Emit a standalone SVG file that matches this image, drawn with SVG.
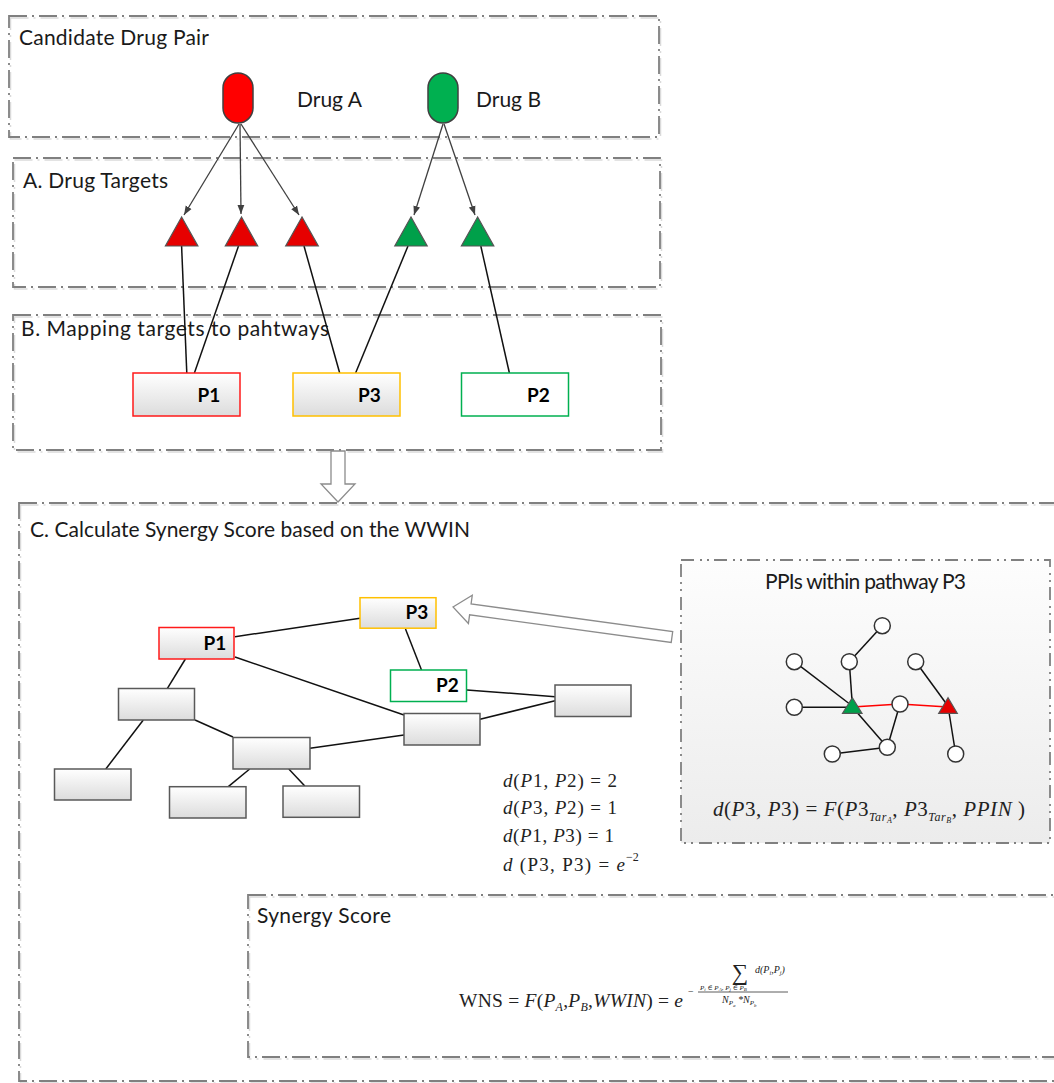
<svg xmlns="http://www.w3.org/2000/svg" width="1054" height="1083" viewBox="0 0 1054 1083">
<defs>
<linearGradient id="gbox" x1="0" y1="0" x2="0" y2="1"><stop offset="0" stop-color="#ffffff"/><stop offset="1" stop-color="#dcdcdc"/></linearGradient>
<linearGradient id="gppi" x1="0" y1="0" x2="0" y2="1"><stop offset="0" stop-color="#fdfdfd"/><stop offset="1" stop-color="#ececec"/></linearGradient>
<marker id="ah" viewBox="0 0 10 10" refX="10" refY="5" markerWidth="9" markerHeight="9" orient="auto" markerUnits="userSpaceOnUse"><path d="M0,1.2 L10,5 L0,8.8 Z" fill="#404040"/></marker>
<style>
.frame{fill:none;stroke:#808080;stroke-width:1.8;stroke-dasharray:18 5 2 5}
.shadow{fill:none;stroke:#dadada;stroke-width:1.5;stroke-dasharray:18 5 2 5}
.frame2{fill:url(#gppi);stroke:#808080;stroke-width:1.8;stroke-dasharray:13 6 2 5 2 5}
.h{font-family:Lato,"Liberation Sans",sans-serif;font-size:21px;fill:#1a1a1a}
.lbl{font-family:Lato,"Liberation Sans",sans-serif;font-weight:bold;font-size:19px;fill:#000;text-anchor:middle}
.math{font-family:"Liberation Serif","DejaVu Serif",serif;fill:#222}
.it{font-style:italic}
.arr{stroke:#404040;stroke-width:1.3;fill:none;marker-end:url(#ah)}
.ln{stroke:#111;stroke-width:1.5;fill:none}
.red{stroke:#ff0000;stroke-width:1.5;fill:none}
.nb{fill:url(#gbox);stroke:#595959;stroke-width:1.5}
.cir{fill:#fff;stroke:#333;stroke-width:1.5}
.hollow{fill:#fff;stroke:#8c8c8c;stroke-width:1.3}
</style>
</defs>
<rect width="1054" height="1083" fill="#fff"/>

<!-- section frames -->
<g id="frames">
<rect class="shadow" x="10.5" y="18" width="650" height="121"/>
<rect class="frame" x="9" y="16" width="650" height="121"/>
<rect class="shadow" x="14.5" y="160" width="647" height="129"/>
<rect class="frame" x="13" y="158" width="647" height="129"/>
<rect class="shadow" x="14.5" y="317" width="648" height="135"/>
<rect class="frame" x="13" y="315" width="648" height="135"/>
<rect class="shadow" x="20.5" y="505" width="1050" height="578"/>
<rect class="frame" x="19" y="503" width="1050" height="578"/>
<rect class="frame2" x="681" y="560" width="369" height="283"/>
<rect class="shadow" x="249.5" y="897" width="820" height="162"/>
<rect class="frame" x="248" y="895" width="820" height="162"/>
</g>

<g id="titles">
<text class="h" x="19" y="45" textLength="190">Candidate Drug Pair</text>
<text class="h" x="23" y="188" textLength="145">A. Drug Targets</text>
<text class="h" x="21" y="336" textLength="308">B. Mapping targets to pahtways</text>
<text class="h" x="30" y="537" textLength="440">C. Calculate Synergy Score based on the WWIN</text>
<text class="h" x="765" y="589" textLength="201">PPIs within pathway P3</text>
<text class="h" x="257" y="923" textLength="134">Synergy Score</text>
</g>

<!-- connectors -->
<g id="connectors">
<line class="arr" x1="239" y1="124" x2="184" y2="215"/>
<line class="arr" x1="240" y1="124" x2="241" y2="214"/>
<line class="arr" x1="241" y1="124" x2="299" y2="215"/>
<line class="arr" x1="443" y1="124" x2="414" y2="215"/>
<line class="arr" x1="444" y1="124" x2="475" y2="215"/>
<line class="ln" x1="181.6" y1="246" x2="186.8" y2="373"/>
<line class="ln" x1="238.5" y1="246" x2="194.4" y2="373"/>
<line class="ln" x1="304" y1="246" x2="339.7" y2="373"/>
<line class="ln" x1="408" y1="246" x2="355.6" y2="373"/>
<line class="ln" x1="480.8" y1="246" x2="509.4" y2="373"/>
<polygon class="hollow" points="331,451 345,451 345,484 355,484 338,502 321,484 331,484"/>
<polygon class="hollow" transform="translate(453,607) rotate(7.8)" points="0,0 17.5,-14.2 17.5,-5.5 221,-5.5 221,5.5 17.5,5.5 17.5,14.2"/>
<!-- WWIN edges -->
<line class="ln" x1="235" y1="636.7" x2="360" y2="618.3"/>
<line class="ln" x1="235" y1="657" x2="404" y2="715"/>
<line class="ln" x1="405.5" y1="629" x2="421.5" y2="670"/>
<line class="ln" x1="467" y1="690" x2="555" y2="696.7"/>
<line class="ln" x1="480" y1="719.3" x2="555" y2="700.7"/>
<line class="ln" x1="185.4" y1="659" x2="167.4" y2="688.3"/>
<line class="ln" x1="143.3" y1="720" x2="105.8" y2="769"/>
<line class="ln" x1="195" y1="720" x2="233" y2="737"/>
<line class="ln" x1="310" y1="748.3" x2="404" y2="735"/>
<line class="ln" x1="249.7" y1="769" x2="228.3" y2="786.7"/>
<line class="ln" x1="288.8" y1="769" x2="304.8" y2="786"/>
<!-- PPI edges -->
<line class="ln" x1="882.3" y1="625.7" x2="849.3" y2="661.7"/>
<line class="ln" x1="849.3" y1="661.7" x2="852.3" y2="705"/>
<line class="ln" x1="794.3" y1="661.7" x2="852.3" y2="706"/>
<line class="ln" x1="794.3" y1="707.3" x2="852.3" y2="707.3"/>
<line class="ln" x1="852.3" y1="707" x2="887.3" y2="747.3"/>
<line class="ln" x1="900" y1="704" x2="887.3" y2="747.3"/>
<line class="ln" x1="832.3" y1="754" x2="887.3" y2="747.3"/>
<line class="ln" x1="915.7" y1="661.7" x2="948" y2="706"/>
<line class="ln" x1="948" y1="706" x2="955.7" y2="754"/>
<line class="red" x1="852.3" y1="707" x2="900" y2="704"/>
<line class="red" x1="900" y1="704" x2="948" y2="707"/>
</g>

<!-- drugs -->
<g id="drugA"><rect x="223" y="73" width="30" height="50" rx="15" fill="#ff0000" stroke="#404040" stroke-width="1.5"/><text class="h" x="297" y="107" font-size="20">Drug A</text></g>
<g id="drugB"><rect x="428" y="73" width="30" height="50" rx="15" fill="#00b050" stroke="#404040" stroke-width="1.5"/><text class="h" x="476" y="107" font-size="20">Drug B</text></g>

<!-- targets -->
<g id="tA1"><polygon points="181.6,217 165.4,246 197.9,246" fill="#e60000" stroke="#555" stroke-width="1.2"/></g>
<g id="tA2"><polygon points="241.5,217 225.3,246 257.7,246" fill="#e60000" stroke="#555" stroke-width="1.2"/></g>
<g id="tA3"><polygon points="302,217 285.7,246 318.3,246" fill="#e60000" stroke="#555" stroke-width="1.2"/></g>
<g id="tB1"><polygon points="411,217 394.8,246 427.2,246" fill="#00a04a" stroke="#555" stroke-width="1.2"/></g>
<g id="tB2"><polygon points="477.6,217 461.4,246 493.8,246" fill="#00a04a" stroke="#555" stroke-width="1.2"/></g>

<!-- pathways (B) -->
<g id="bP1"><rect class="nb" x="133" y="373" width="107" height="43" style="stroke:#ff1a1a"/><text class="lbl" x="209" y="402" font-size="18">P1</text></g>
<g id="bP3"><rect class="nb" x="293" y="373" width="107" height="43" style="stroke:#ffc000"/><text class="lbl" x="369.5" y="402" font-size="18">P3</text></g>
<g id="bP2"><rect x="461.5" y="373" width="107" height="43" fill="#fff" stroke="#00b050" stroke-width="1.5"/><text class="lbl" x="538.5" y="402" font-size="18">P2</text></g>

<!-- WWIN network (C) -->
<g id="cP3"><rect class="nb" x="360" y="597.7" width="76" height="30.5" style="stroke:#ffc000"/><text class="lbl" x="417" y="619">P3</text></g>
<g id="cP1"><rect class="nb" x="159" y="627.5" width="75" height="31.5" style="stroke:#ff1a1a"/><text class="lbl" x="215" y="650">P1</text></g>
<g id="cP2"><rect x="390.5" y="670" width="76" height="31.5" fill="#fff" stroke="#00b050" stroke-width="1.5"/><text class="lbl" x="447.5" y="692">P2</text></g>
<g id="cN1"><rect class="nb" x="555" y="685" width="76" height="31.5"/></g>
<g id="cN2"><rect class="nb" x="404" y="713.5" width="76" height="31.5"/></g>
<g id="cN3"><rect class="nb" x="118.5" y="688.5" width="76" height="31.5"/></g>
<g id="cN4"><rect class="nb" x="233" y="737.5" width="77" height="31.5"/></g>
<g id="cN5"><rect class="nb" x="54.5" y="769" width="76.5" height="31"/></g>
<g id="cN6"><rect class="nb" x="169.5" y="786.7" width="76.5" height="31.3"/></g>
<g id="cN7"><rect class="nb" x="283" y="786" width="76.5" height="31.3"/></g>

<!-- distances -->
<g id="distances">
<text class="math" font-size="19" x="503" y="787" textLength="114"><tspan class="it">d</tspan>(<tspan class="it">P</tspan>1, <tspan class="it">P</tspan>2)  =  2</text>
<text class="math" font-size="19" x="503" y="814" textLength="114"><tspan class="it">d</tspan>(<tspan class="it">P</tspan>3, <tspan class="it">P</tspan>2)  =  1</text>
<text class="math" font-size="19" x="503" y="842" textLength="111"><tspan class="it">d</tspan>(<tspan class="it">P</tspan>1, <tspan class="it">P</tspan>3)  =  1</text>
<text class="math" font-size="19" x="503" y="871" textLength="122"><tspan class="it">d</tspan> (P3, P3)  =  <tspan class="it">e</tspan></text>
<text class="math" font-size="12" x="626" y="861">−2</text>
</g>

<!-- PPI network -->
<g id="ppiNodes">
<circle class="cir" cx="882.3" cy="625.7" r="8"/>
<circle class="cir" cx="794.3" cy="661.7" r="8"/>
<circle class="cir" cx="849.3" cy="661.7" r="8"/>
<circle class="cir" cx="915.7" cy="661.7" r="8"/>
<circle class="cir" cx="794.3" cy="707.3" r="8"/>
<circle class="cir" cx="900" cy="704" r="8"/>
<circle class="cir" cx="832.3" cy="754" r="8"/>
<circle class="cir" cx="887.3" cy="747.3" r="8"/>
<circle class="cir" cx="955.7" cy="754" r="8"/>
<polygon points="852.3,697.7 842.5,713.3 862,713.3" fill="#00a04a" stroke="#555" stroke-width="1.2"/>
<polygon points="948,697.7 938.7,713.3 957.3,713.3" fill="#e60000" stroke="#555" stroke-width="1.2"/>
</g>
<g id="ppiFormula" class="math">
<text font-size="21" x="713" y="816" textLength="312"><tspan class="it">d</tspan>(<tspan class="it">P</tspan>3, <tspan class="it">P</tspan>3)  =  <tspan class="it">F</tspan>(<tspan class="it">P</tspan>3<tspan font-size="12" dy="5" class="it">Tar</tspan><tspan font-size="8" dy="2" class="it">A</tspan><tspan dy="-7">, </tspan><tspan class="it">P</tspan>3<tspan font-size="12" dy="5" class="it">Tar</tspan><tspan font-size="8" dy="2" class="it">B</tspan><tspan dy="-7">, </tspan><tspan class="it">PPIN</tspan> )</text>
</g>

<!-- synergy formula -->
<g id="wnsFormula" class="math">
<text font-size="19.5" x="459" y="1007" textLength="224">WNS = <tspan class="it">F</tspan>(<tspan class="it">P</tspan><tspan font-size="12" dy="4" class="it">A</tspan><tspan dy="-4">,</tspan><tspan class="it">P</tspan><tspan font-size="12" dy="4" class="it">B</tspan><tspan dy="-4">,</tspan><tspan class="it">WWIN</tspan>) = <tspan class="it">e</tspan></text>
<text font-size="10" x="688" y="995">−</text>
<line x1="698" y1="992" x2="788" y2="992" stroke="#333" stroke-width="0.8"/>
<text font-size="23" x="740" y="980" text-anchor="middle">∑</text>
<text font-size="10" x="755" y="973" class="it">d(P<tspan font-size="6" dy="2">i</tspan><tspan dy="-2">,P</tspan><tspan font-size="6" dy="2">j</tspan><tspan dy="-2">)</tspan></text>
<text font-size="7" x="700" y="989.5" class="it">P<tspan font-size="5" dy="1">i</tspan><tspan dy="-1"> ∈ P</tspan><tspan font-size="5" dy="1">A</tspan><tspan dy="-1">, P</tspan><tspan font-size="5" dy="1">j</tspan><tspan dy="-1"> ∈ P</tspan><tspan font-size="5" dy="1">B</tspan></text>
<text font-size="10" x="722" y="1003" class="it">N<tspan font-size="7" dy="2">P</tspan><tspan font-size="5" dy="1.5">a</tspan><tspan dy="-3.5"> *N</tspan><tspan font-size="7" dy="2">P</tspan><tspan font-size="5" dy="1.5">b</tspan></text>
</g>
</svg>
